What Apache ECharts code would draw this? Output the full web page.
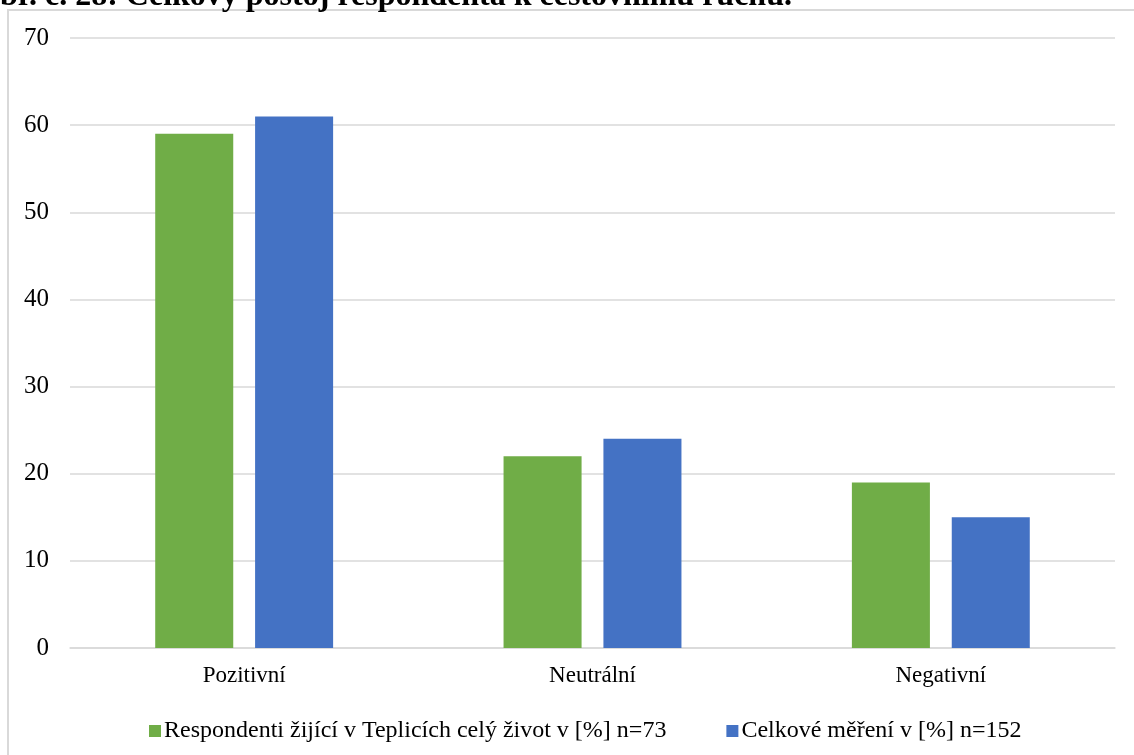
<!DOCTYPE html>
<html>
<head>
<meta charset="utf-8">
<script src="https://cdn.jsdelivr.net/npm/echarts@6/dist/echarts.min.js"></script>
<style>
  html, body { margin: 0; padding: 0; background: #fff; }
  #chart { width: 1134px; height: 755px; }
</style>
</head>
<body>
<div id="chart"></div>
<script>
// Attitude categories and shares (%) for both respondent groups
const categories = ['Pozitivní', 'Neutrální', 'Negativní'];
const seriesNames = [
  'Respondenti žijící v Teplicích celý život v [%] n=73',
  'Celkové měření v [%] n=152'
];
const lifelongResidents = [59, 22, 19];
const allRespondents = [61, 24, 15];
const titleText = 'Obr. č. 28: Celkový postoj respondenta k cestovnímu ruchu.';

const serif = '"Liberation Serif", "Times New Roman", serif';
const chart = echarts.init(document.getElementById('chart'), null, { renderer: 'canvas' });

chart.setOption({
  backgroundColor: '#ffffff',
  animation: false,
  graphic: [
    {
      type: 'rect',
      shape: { x: 8, y: 10, width: 1400, height: 900 },
      style: { fill: 'none', stroke: '#d9d9d9', lineWidth: 2 },
      silent: true
    },
    {
      type: 'text',
      x: -25,
      y: -3,
      style: {
        text: titleText,
        font: 'bold 32px ' + serif,
        fill: '#000',
        verticalAlign: 'middle'
      },
      silent: true
    }
  ],
  grid: { left: 70, right: 19, top: 38, bottom: 107, containLabel: false },
  legend: {
    left: 144,
    top: 714,
    itemWidth: 12,
    itemHeight: 12,
    itemGap: 60,
    icon: 'rect',
    textStyle: { fontFamily: serif, fontSize: 24, color: '#000', padding: [0, 0, 0, -2] },
    data: seriesNames
  },
  xAxis: {
    type: 'category',
    data: categories,
    axisLine: { lineStyle: { color: '#d9d9d9', width: 1.5 } },
    axisTick: { show: false },
    axisLabel: { fontFamily: serif, fontSize: 23, color: '#000', margin: 16 }
  },
  yAxis: {
    type: 'value',
    min: 0,
    max: 70,
    interval: 10,
    axisLine: { show: false },
    axisTick: { show: false },
    splitLine: { lineStyle: { color: '#d9d9d9', width: 1.5 } },
    axisLabel: { fontFamily: serif, fontSize: 25, color: '#000', margin: 21 }
  },
  series: [
    {
      name: seriesNames[0],
      type: 'bar',
      data: lifelongResidents,
      barWidth: '22.4%',
      barGap: '28%',
      itemStyle: { color: '#70ad47' }
    },
    {
      name: seriesNames[1],
      type: 'bar',
      data: allRespondents,
      barWidth: '22.4%',
      barGap: '28%',
      itemStyle: { color: '#4472c4' }
    }
  ]
});
</script>
</body>
</html>
